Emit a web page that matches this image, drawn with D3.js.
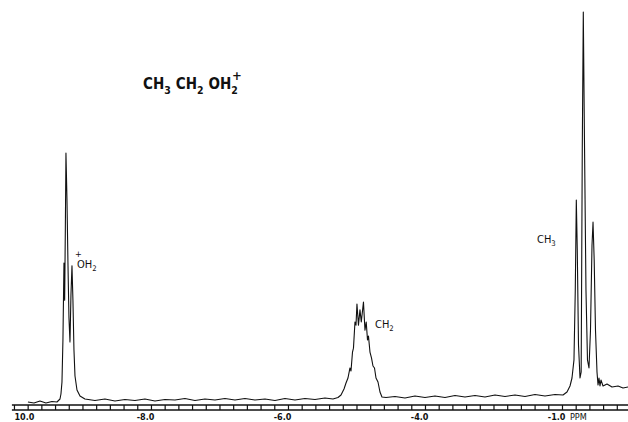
<!DOCTYPE html>
<html>
<head>
<meta charset="utf-8">
<script src="https://cdn.jsdelivr.net/npm/d3@7/dist/d3.min.js"></script>
<style>
html,body{margin:0;padding:0;background:#fff;}
svg{display:block;}
text{fill:#111;}
</style>
</head>
<body>
<svg id="chart" width="628" height="422"></svg>
<script>
// ---- data (chemical shift in ppm, signal in arbitrary units) ----
const ppm = [
  9.796, 9.708, 9.620, 9.533, 9.445, 9.372, 9.328, 9.314, 9.299, 9.285,
  9.270, 9.260, 9.250, 9.241, 9.226, 9.212, 9.197, 9.182, 9.168, 9.153,
  9.139, 9.124, 9.109, 9.080, 9.036, 8.964,
  8.818, 8.672, 8.526, 8.380, 8.234, 8.088, 7.942, 7.796, 7.650, 7.504,
  7.358, 7.212, 7.066, 6.920, 6.774, 6.628, 6.482, 6.336, 6.190, 6.044,
  5.898, 5.752, 5.606, 5.460, 5.343,
  5.270, 5.226, 5.182, 5.153, 5.124, 5.095, 5.080, 5.058, 5.044, 5.022,
  5.007, 4.993, 4.971, 4.949, 4.930, 4.898, 4.876, 4.858, 4.839, 4.825,
  4.803, 4.781, 4.759, 4.737, 4.715, 4.686, 4.657, 4.628, 4.569,
  4.438, 4.292, 4.146, 4.000, 3.854, 3.708, 3.562, 3.416, 3.270, 3.124,
  2.978, 2.832, 2.686, 2.540, 2.394, 2.248, 2.102, 1.985,
  1.927, 1.883, 1.854, 1.825, 1.806, 1.791, 1.777, 1.759, 1.737, 1.720,
  1.704, 1.689, 1.672, 1.650, 1.628, 1.606, 1.584, 1.562, 1.547, 1.530,
  1.511, 1.489, 1.474, 1.460, 1.445, 1.431, 1.401, 1.343, 1.270, 1.182,
  1.109, 1.036
];
const signal = [
  -0.51, -0.77, -0.26, -0.77, -0.38, -0.51, 0.26, 1.54, 4.62, 15.4,
  35.1, 25.6, 43.6, 63.3, 51.3, 35.4, 21.0, 14.9, 26.9, 34.4,
  25.6, 12.8, 6.15, 2.56, 1.03, 0.26,
  -0.13, 0.26, -0.26, 0.13, -0.13, 0.26, -0.26, 0.13, 0.0, 0.38,
  -0.13, 0.26, 0.0, 0.38, 0.0, 0.38, 0.0, 0.26, -0.13, 0.38,
  0.0, 0.38, 0.13, 0.51, 0.26,
  0.64, 1.28, 2.82, 4.36, 5.64, 8.21, 7.44, 12.3, 13.3, 20.0,
  19.2, 24.6, 19.2, 23.1, 20.0, 25.1, 17.9, 20.0, 15.4, 16.4,
  12.3, 10.8, 8.72, 8.21, 5.64, 4.62, 2.05, 0.77, 0.64,
  0.90, 0.51, 1.03, 0.64, 1.03, 0.64, 1.15, 0.77, 1.15, 0.77,
  1.28, 0.90, 1.28, 0.90, 1.41, 1.03, 1.41, 1.28,
  2.05, 3.59, 5.64, 10.3, 28.2, 51.3, 38.5, 14.1, 5.64, 7.18,
  64.1, 99.5, 66.7, 28.2, 10.3, 8.21, 17.9, 39.7, 45.6, 35.9,
  17.9, 7.18, 3.85, 5.64, 3.59, 5.13, 3.59, 4.10, 3.33, 3.59,
  3.08, 3.33
];
const majorTicks = [10, 8, 6, 4, 2];
const tickLabels = ["10.0", "-8.0", "-6.0", "-4.0", "-1.0"];
const unitLabel = "PPM";
const minorTicks = [10.0,9.8,9.6,9.4,9.2,9.0,8.8,8.6,8.4,8.2,8.0,7.8,7.6,7.4,7.2,7.0,6.8,6.6,6.4,6.2,6.0,5.8,5.6,5.4,5.2,5.0,4.8,4.6,4.4,4.2,4.0,3.8,3.6,3.4,3.2,3.0,2.8,2.6,2.4,2.2,2.0,1.8,1.6,1.4,1.2];

// ---- layout ----
const svg = d3.select("#chart");
const x = d3.scaleLinear().domain([10.03, 1.035]).range([11.9, 628.1]);
const y = d3.scaleLinear().domain([0, 100]).range([400, 10]);

const pts = ppm.map((p, i) => [p, signal[i]]);
const line = d3.line().x(d => x(d[0])).y(d => y(d[1])).curve(d3.curveLinear);

svg.append("path")
  .datum(pts)
  .attr("d", line)
  .attr("fill", "none")
  .attr("stroke", "#111")
  .attr("stroke-width", 1.1)
  .attr("stroke-linejoin", "round");

// ruler (double line with ticks)
const rulerTop = 405, rulerBot = 410;
const [x0, x1] = x.range();
svg.append("line").attr("x1", x0).attr("x2", x1).attr("y1", rulerTop).attr("y2", rulerTop)
  .attr("stroke", "#111").attr("stroke-width", 1.3);
svg.append("line").attr("x1", x0).attr("x2", x1).attr("y1", rulerBot).attr("y2", rulerBot)
  .attr("stroke", "#111").attr("stroke-width", 1.3);

const minorAxis = d3.axisBottom(x).tickValues(minorTicks).tickSize(rulerBot - rulerTop).tickFormat("");
const gMinor = svg.append("g").attr("transform", `translate(0,${rulerTop})`).call(minorAxis);
gMinor.select(".domain").remove();
gMinor.selectAll(".tick line").attr("stroke", "#111").attr("stroke-width", 1.2);

const majorAxis = d3.axisBottom(x).tickValues(majorTicks)
  .tickFormat((d, i) => tickLabels[i]).tickSize(0).tickPadding(0);
const gMajor = svg.append("g").attr("transform", `translate(0,${rulerBot})`).call(majorAxis);
gMajor.select(".domain").remove();
gMajor.selectAll(".tick text")
  .attr("font-family", "'DejaVu Sans Condensed','DejaVu Sans',sans-serif")
  .attr("font-weight", "bold")
  .attr("font-size", 9)
  .attr("fill", "#111")
  .attr("text-anchor", (d, i) => i === 0 ? "start" : "end")
  .attr("dx", (d, i) => i === 0 ? 0 : 3)
  .attr("dy", 0)
  .attr("y", 10);
svg.append("text")
  .attr("x", x(2) + 8).attr("y", rulerBot + 10)
  .attr("font-family", "'DejaVu Sans Condensed','DejaVu Sans',sans-serif")
  .attr("font-size", 9)
  .text(unitLabel);

// ---- text labels ----
const hand = "'DejaVu Sans Condensed','DejaVu Sans',sans-serif";
function formula(parent, px, py, parts, size, weight) {
  const t = parent.append("text").attr("x", px).attr("y", py)
    .attr("font-family", hand).attr("font-size", size).attr("font-weight", weight);
  parts.forEach(p => {
    const ts = t.append("tspan").text(p.t);
    if (p.sub) ts.attr("font-size", size * 0.7).attr("dy", size * 0.3);
    if (p.back) ts.attr("dy", -size * 0.3);
    if (p.dx) ts.attr("dx", p.dx);
  });
  return t;
}
// title
formula(svg, 143, 89, [
  {t: "CH"}, {t: "3", sub: true}, {t: "CH", back: true, dx: 5},
  {t: "2", sub: true}, {t: "OH", back: true, dx: 5}, {t: "2", sub: true}
], 15, "bold");
svg.append("text").attr("x", 232).attr("y", 80).attr("font-family", hand)
  .attr("font-size", 13).attr("font-weight", "bold").text("+");

// peak labels
svg.append("text").attr("x", 75).attr("y", 257).attr("font-family", hand)
  .attr("font-size", 9).text("+");
formula(svg, 77, 268, [{t: "OH"}, {t: "2", sub: true}], 11, "normal");
formula(svg, 375, 328, [{t: "CH"}, {t: "2", sub: true}], 11, "normal");
formula(svg, 537, 243, [{t: "CH"}, {t: "3", sub: true}], 11, "normal");
</script>
</body>
</html>
